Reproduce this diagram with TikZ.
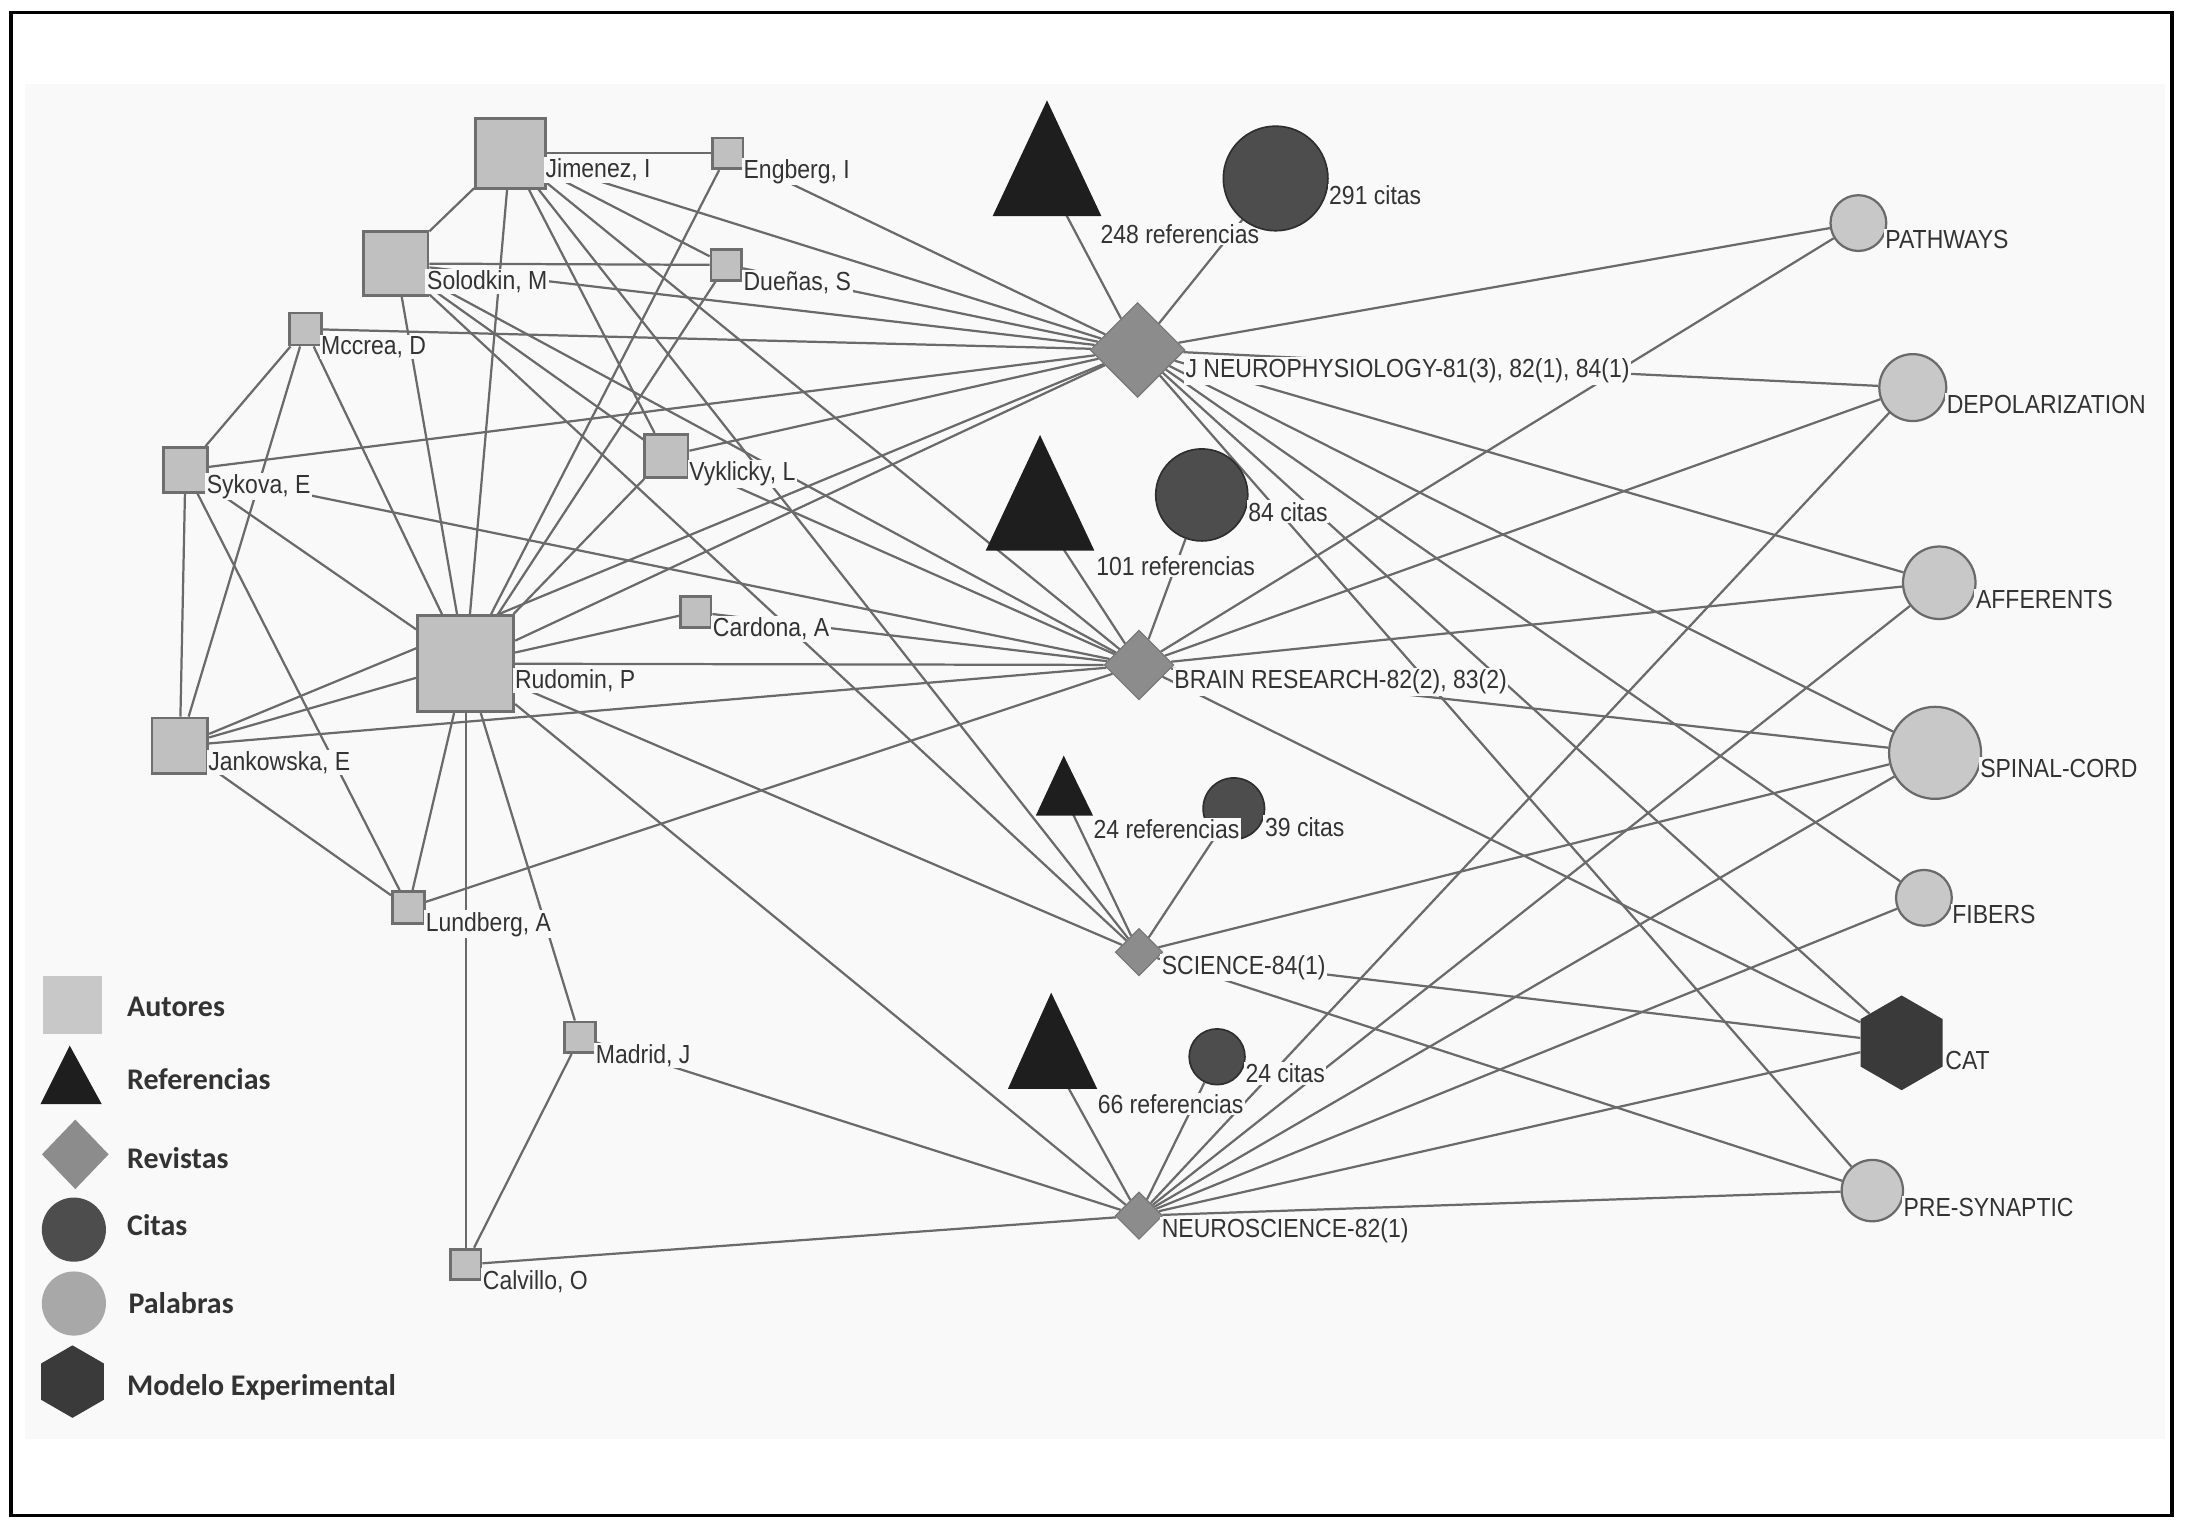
\documentclass[tikz,border=0pt]{standalone}
\usepackage{fontspec}
\newfontfamily\labfont[FakeStretch=0.88]{Liberation Sans}
\newfontfamily\legfont{Carlito}
\usetikzlibrary{shapes.geometric}
\pgfdeclarelayer{shadelayer}
\pgfdeclarelayer{edgelayer}
\pgfsetlayers{shadelayer,edgelayer,main}
\definecolor{bgc}{gray}{0.978}
\definecolor{edgec}{HTML}{6A6A6A}
\definecolor{autf}{HTML}{C0C0C0}
\definecolor{autd}{HTML}{6E6E6E}
\definecolor{trif}{HTML}{1E1E1E}
\definecolor{citf}{HTML}{4D4D4D}
\definecolor{citd}{HTML}{2E2E2E}
\definecolor{revf}{HTML}{8C8C8C}
\definecolor{palf}{HTML}{C8C8C8}
\definecolor{pald}{HTML}{6A6A6A}
\definecolor{legpal}{HTML}{A8A8A8}
\definecolor{catf}{HTML}{3A3A3A}
\definecolor{txtc}{HTML}{333333}
\begin{document}
\begin{tikzpicture}[x=1pt,y=-1pt,
  autor/.style={rectangle, fill=autf, draw=autd, line width=2pt, inner sep=0pt, minimum size=#1},
  revista/.style={diamond, fill=revf, draw=revf!85!black, line width=0.8pt, inner sep=0pt, minimum size=#1},
  cita/.style={circle, fill=citf, draw=citd, line width=1.2pt, inner sep=0pt, minimum size=#1},
  palabra/.style={circle, fill=palf, draw=pald, line width=1.6pt, inner sep=0pt, minimum size=#1},
  hexa/.style={regular polygon, regular polygon sides=6, rotate=30, inner sep=0pt, fill=catf, minimum size=#1},
  hub/.style={circle, inner sep=0pt, minimum size=0pt},
  lab/.style={anchor=west, fill=bgc, inner sep=1.2pt, text=txtc, font=\labfont\fontsize{18.75}{20}\selectfont},
  leg/.style={anchor=west, inner sep=0pt, text=txtc, font=\legfont\bfseries\fontsize{21.5}{24}\selectfont},
  link/.style={draw=edgec, line width=1.6pt}
]
\useasboundingbox (0,0) rectangle (1568,1096);
\begin{pgfonlayer}{shadelayer}
  \fill[white] (0,0) rectangle (1568,1096);
  \fill[bgc] (18,60) rectangle (1553,1032);
\end{pgfonlayer}
\draw[line width=2.5pt] (8,9) rectangle (1558,1087);

% authors
\node[autor=50pt] (jim) at (366,110) {};
\node[autor=22pt] (eng) at (522,110) {};
\node[autor=46pt] (sol) at (284,189) {};
\node[autor=22pt] (due) at (521,190) {};
\node[autor=23pt] (mcc) at (219,236) {};
\node[autor=32pt] (syk) at (133,337) {};
\node[autor=31pt] (vyk) at (478,327) {};
\node[autor=22pt] (car) at (499,439) {};
\node[autor=69pt] (rud) at (334,476) {};
\node[autor=40pt] (jan) at (129,535) {};
\node[autor=23pt] (lun) at (293,651) {};
\node[autor=22pt] (mad) at (416,744) {};
\node[autor=22pt] (cal) at (334,907) {};

% journals
\node[revista=68pt] (jn) at (816,251) {};
\node[revista=50pt] (br) at (817,477) {};
\node[revista=34pt] (sci) at (817,683) {};
\node[revista=34pt] (ns) at (817,872) {};

% references (triangles)
\fill[trif] (751,72) -- (790,155) -- (712,155) -- cycle;
\node[hub] (r248) at (751,128) {};
\node[lab] (lr248) at (788,168) {248 referencias};
\fill[trif] (746,312) -- (785,395) -- (707,395) -- cycle;
\node[hub] (r101) at (746,368) {};
\fill[trif] (763,542) -- (784,585) -- (743,585) -- cycle;
\node[hub] (r24) at (763,570) {};
\fill[trif] (754,712) -- (787,781) -- (723,781) -- cycle;
\node[hub] (r66) at (754,758) {};

% citations
\node[cita=75pt] (c291) at (915,128) {};
\node[cita=66pt] (c84) at (862,355) {};
\node[cita=44pt] (c39) at (885,580) {};
\node[cita=40pt] (c24) at (873,758) {};

% words
\node[palabra=40pt] (pat) at (1333,160) {};
\node[palabra=48pt] (dep) at (1372,278) {};
\node[palabra=52pt] (aff) at (1391,418) {};
\node[palabra=66pt] (spi) at (1388,540) {};
\node[palabra=40pt] (fib) at (1380,644) {};
\node[hexa=68pt] (cat) at (1364,748) {};
\node[palabra=44pt] (pre) at (1343,854) {};

% edges
\begin{pgfonlayer}{edgelayer}
\foreach \a/\b in {jim/eng, jim/sol, jim/rud, jim/due, jim/vyk,
  sol/due, sol/rud, sol/vyk, eng/rud, due/rud,
  mcc/syk, mcc/jan, mcc/rud, syk/jan, syk/rud, syk/lun,
  jan/rud, jan/lun, rud/lun, rud/car, rud/cal, rud/mad, rud/vyk, mad/cal,
  eng/jn, jim/jn, due/jn, sol/jn, mcc/jn, syk/jn, vyk/jn, rud/jn, jan/jn,
  jim/br, sol/br, syk/br, car/br, rud/br, jan/br, lun/br, vyk/br,
  jim/sci, sol/sci, rud/sci,
  rud/ns, mad/ns, cal/ns,
  r248/jn, c291/jn, r101/br, c84/br, r24/sci, c39/sci, r66/ns, c24/ns,
  jn/pat, jn/dep, jn/aff, jn/spi, jn/fib, jn/cat, jn/pre,
  br/pat, br/dep, br/aff, br/spi, br/cat,
  sci/spi, sci/cat, sci/pre,
  ns/dep, ns/aff, ns/spi, ns/fib, ns/cat, ns/pre}
  \draw[link] (\a) -- (\b);
\end{pgfonlayer}

% labels
\node[lab] (ljim) at (390,122) {Jimenez, I};
\node[lab] (leng) at (532,123) {Engberg, I};
\node[lab] (lsol) at (305,202) {Solodkin, M};
\node[lab] (ldue) at (532,203) {Dueñas, S};
\node[lab] (lmcc) at (229,249) {Mccrea, D};
\node[lab] (lsyk) at (147,349) {Sykova, E};
\node[lab] (lvyk) at (493,340) {Vyklicky, L};
\node[lab] (lcar) at (510,451) {Cardona, A};
\node[lab] (lrud) at (368,488) {Rudomin, P};
\node[lab] (ljan) at (148,547) {Jankowska, E};
\node[lab] (llun) at (304,663) {Lundberg, A};
\node[lab] (lmad) at (426,757) {Madrid, J};
\node[lab] (lcal) at (345,919) {Calvillo, O};

\node[lab] (ljn) at (849,266) {J NEUROPHYSIOLOGY-81(3), 82(1), 84(1)};
\node[lab] (lbr) at (841,489) {BRAIN RESEARCH-82(2), 83(2)};
\node[lab] (lsci) at (832,694) {SCIENCE-84(1)};
\node[lab] (lns) at (832,883) {NEUROSCIENCE-82(1)};

\node[lab] (lr101) at (785,406) {101 referencias};
\node[lab] (lr24) at (783,595) {24 referencias};
\node[lab] (lr66) at (786,792) {66 referencias};
\node[lab] (lc291) at (952,140) {291 citas};
\node[lab] (lc84) at (894,367) {84 citas};
\node[lab] (lc39) at (906,593) {39 citas};
\node[lab] (lc24) at (892,770) {24 citas};

\node[lab] (lpat) at (1351,172) {PATHWAYS};
\node[lab] (ldep) at (1395,290) {DEPOLARIZATION};
\node[lab] (laff) at (1416,430) {AFFERENTS};
\node[lab] (lspi) at (1419,551) {SPINAL-CORD};
\node[lab] (lfib) at (1399,656) {FIBERS};
\node[lab] (lcat) at (1394,761) {CAT};
\node[lab] (lpre) at (1364,866) {PRE-SYNAPTIC};

% legend
\node[rectangle, fill=palf, minimum size=42pt, inner sep=0pt] (lgaut) at (52,721) {};
\fill[trif] (50,750) -- (73,792) -- (29,792) -- cycle;
\node[diamond, fill=revf, minimum width=48pt, minimum height=50pt, inner sep=0pt] (lgrev) at (54,828) {};
\node[circle, fill=citf, minimum size=46pt, inner sep=0pt] (lgcit) at (53,882) {};
\node[circle, fill=legpal, minimum size=46pt, inner sep=0pt] (lgpal) at (53,935) {};
\node[hexa=52pt] (lgmod) at (52,991) {};

\node[leg] (tx1) at (91,722) {Autores};
\node[leg] (tx2) at (91,774) {Referencias};
\node[leg] (tx3) at (91,831) {Revistas};
\node[leg] (tx4) at (91,879) {Citas};
\node[leg] (tx5) at (92,935) {Palabras};
\node[leg] (tx6) at (91,995) {Modelo Experimental};
\end{tikzpicture}
\end{document}
